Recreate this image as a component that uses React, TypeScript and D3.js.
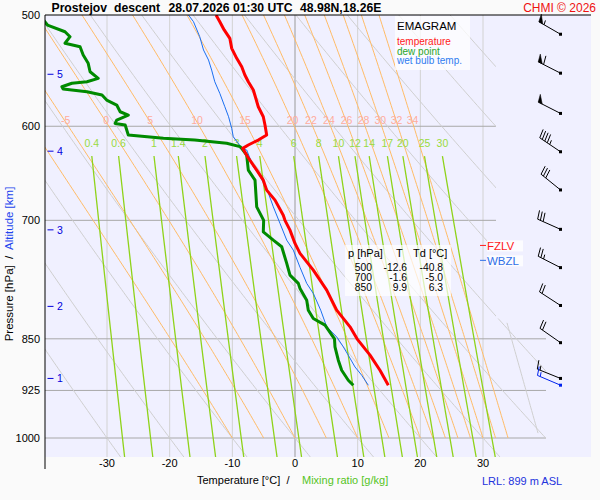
import { useEffect, useRef } from "react";
import * as d3 from "d3";

// ---- data ----
const pressureLevels = [600, 700, 850, 925, 1000];
const pressureLabels = [500, 600, 700, 850, 925, 1000];
const tempTicks = [-30, -20, -10, 0, 10, 20, 30];
const isotherms = [-30, -20, -10, 0, 10, 20, 30];
const mixingRatios = [0.4, 0.6, 1, 1.4, 2, 3, 4, 6, 8, 10, 12, 14, 17, 20, 25, 30];
const thetaW = [-10, -5, 0, 5, 10, 15, 20, 22, 24, 26, 28, 30, 32, 34];
const dryTheta = [-30, -20, -10, 0, 10, 20, 30, 40, 50, 60, 70, 80, 90, 100, 110, 120, 130, 140, 150];

// [pressure hPa, temperature °C]
const tempProfile: [number, number][] = [
  [500, -12.6], [505.5, -12.0], [512.4, -11.3], [519.5, -10.4], [528.1, -10.1],
  [536.8, -9.3], [544.2, -8.5], [551.7, -8.0], [557.8, -7.45], [565.4, -6.65],
  [581.1, -5.86], [590.7, -5.06], [598.8, -4.79], [608.7, -4.52], [613.7, -5.86],
  [618.7, -7.45], [622.1, -8.35], [632, -7.45], [644.7, -6.11], [655.4, -5.06],
  [666.2, -4.52], [677.2, -3.19], [694.1, -1.87], [700, -1.6], [711.3, -0.8],
  [727, 0], [739, 0.8], [759.5, 2.92], [784.8, 5.06], [811, 6.65], [833.5, 8.78],
  [850, 9.9], [873.1, 11.97], [894.9, 13.56], [917.2, 14.89],
];
const dewProfile: [number, number][] = [
  [500, -40.8], [508.3, -39.5], [513.9, -36.7], [518.1, -35.9], [523.7, -36.7],
  [526.7, -34.3], [533.9, -33.8], [541.2, -33.0], [548.7, -32.7], [554.7, -31.4],
  [557.8, -33.2], [559.2, -35.6], [562.4, -37.2], [564.5, -37.0], [567, -33.2],
  [570.1, -30.8], [574.8, -30.05], [579.5, -28.45], [585.9, -27.9], [589.1, -26.6],
  [593.9, -28.45], [597.2, -28.7], [598.8, -27.1], [608.7, -26.6], [612, -21.0],
  [613.7, -16.0], [617, -10.9], [620.4, -8.78], [622.1, -8.51], [629, -7.71],
  [644.7, -7.45], [655.4, -6.38], [684.7, -6.11], [700, -5.0], [713.3, -5.06],
  [723.1, -3.46], [731, -2.12], [751.2, -1.32], [765.7, -0.8], [776.2, 0.53],
  [782.6, 0.8], [797.8, 1.87], [811, 2.12], [822.1, 2.92], [831.2, 4.79],
  [850, 6.3], [861.3, 6.38], [880.3, 6.91], [894.9, 7.45], [909.7, 8.5], [917.2, 9.3],
];
const wetBulbProfile: [number, number][] = [
  [500, -17.0], [505.5, -16.2], [518.1, -15.2], [529.5, -14.6], [538.3, -13.8],
  [547.2, -13.3], [557.8, -12.8], [568.5, -12.0], [581.1, -11.2], [590.7, -10.6],
  [602.1, -10.1], [610.4, -9.85], [617, -9.05], [622.1, -8.51], [623.8, -7.71],
  [641.2, -6.65], [648.2, -5.86], [664.3, -4.52], [684.7, -3.46], [703.6, -2.39],
  [723.1, -1.32], [735, -0.27], [756, 0.8], [776.2, 1.87], [789.1, 2.92],
  [811, 4.1], [833.5, 5.06], [847.3, 6.65], [861.3, 7.71], [873.1, 8.5],
  [890.1, 9.57], [902.2, 10.64], [917.2, 11.7],
];

const tableRows: [number, number, number][] = [
  [500, -12.6, -40.8],
  [700, -1.6, -5.0],
  [850, 9.9, 6.3],
];
// [altitude km, pressure hPa]
const altitudeMarks: [number, number][] = [[5, 551], [4, 625], [3, 711], [2, 806], [1, 907]];
// wind barbs: pressure, direction (deg), speed (kt)
const windLevels = [
  { p: 516, dir: 300, spd: 55 },
  { p: 550, dir: 297, spd: 60 },
  { p: 587.5, dir: 297, spd: 50 },
  { p: 625.6, dir: 304, spd: 45 },
  { p: 666, dir: 309, spd: 30 },
  { p: 710.4, dir: 294, spd: 30 },
  { p: 756.4, dir: 297, spd: 25 },
  { p: 804.8, dir: 303, spd: 20 },
  { p: 855.4, dir: 305, spd: 20 },
  { p: 907, dir: 292, spd: 15 },
];
const surfaceWind = { p: 917.1, dir: 293, spd: 15 };
const fzlv = 727;
const wbzl = 745;
const lrl = 899;

const FONT = "'Liberation Sans', Arial, Helvetica, sans-serif";

function dTdp(p: number, T: number) {
  const es = 6.112 * Math.exp((17.67 * (T - 273.15)) / (T - 29.65));
  const rs = (0.622 * es) / (p - es);
  const L = 2.501e6;
  return (287.04 * T + L * rs) / (p * (1005.7 + (L * L * rs * 0.622) / (287.04 * T * T)));
}

function moistAdiabat(tw: number, pTop: number): [number, number][] {
  let T = tw + 273.15;
  let p = 1000;
  const pts: [number, number][] = [[1000, tw]];
  while (p > pTop) {
    const dp = -4;
    const k1 = dTdp(p, T);
    const k2 = dTdp(p + dp / 2, T + (k1 * dp) / 2);
    T += k2 * dp;
    p += dp;
    pts.push([p, T - 273.15]);
  }
  return pts;
}

function tdFromMix(w: number, p: number) {
  const e = (w * p) / (622 + w);
  const l = Math.log(e / 6.112);
  return (243.5 * l) / (17.67 - l);
}

const App = () => {
  const ref = useRef<SVGSVGElement>(null);

  useEffect(() => {
    if (!ref.current) return;
    const svg = d3.select(ref.current);
    svg.selectAll("*").remove();

    const left = 45, top = 15, right = 591, bottom = 457;
    const x = d3.scaleLinear().domain([-30, 30]).range([107, 483]);
    const y = d3.scaleLog().domain([500, 1000]).range([15, 438]);
    const pBot = y.invert(bottom);
    const yStep = y(822);

    const line = d3
      .line<[number, number]>()
      .x((d) => x(d[1]))
      .y((d) => y(d[0]));

    svg.append("rect").attr("width", 600).attr("height", 500).attr("fill", "#fafafa");
    svg
      .append("rect")
      .attr("x", left)
      .attr("y", top)
      .attr("width", right - left)
      .attr("height", bottom - top)
      .attr("fill", "#f0f0ff");

    const defs = svg.append("defs");
    defs
      .append("clipPath")
      .attr("id", "diag")
      .append("polygon")
      .attr(
        "points",
        `${left},${top} 496,${top} 496,${yStep} 546,${yStep} 546,${bottom} ${left},${bottom}`
      );
    defs
      .append("clipPath")
      .attr("id", "plot")
      .append("rect")
      .attr("x", left)
      .attr("y", top)
      .attr("width", right - left)
      .attr("height", bottom - top);

    const g = svg.append("g").attr("clip-path", "url(#diag)");

    // isotherms
    isotherms.forEach((t) =>
      g
        .append("line")
        .attr("x1", x(t))
        .attr("x2", x(t))
        .attr("y1", top)
        .attr("y2", bottom)
        .attr("stroke", t === 0 ? "#9a9a9a" : "#d2d2d2")
        .attr("stroke-width", 1)
    );
    // isobars
    pressureLevels.forEach((p) =>
      g
        .append("line")
        .attr("x1", left)
        .attr("x2", right)
        .attr("y1", y(p))
        .attr("y2", y(p))
        .attr("stroke", "#a8a8a8")
    );

    // dry adiabats
    const pSteps = d3.range(500, pBot + 4, 4);
    dryTheta.forEach((th) => {
      const pts = pSteps.map((p) => [p, (th + 273.15) * Math.pow(p / 1000, 0.2857) - 273.15] as [number, number]);
      g.append("path").attr("d", line(pts)).attr("fill", "none").attr("stroke", "#cfcfcf").attr("stroke-width", 1);
    });

    // moist adiabats
    thetaW.forEach((tw) => {
      g.append("path")
        .attr("d", line(moistAdiabat(tw, 500)))
        .attr("fill", "none")
        .attr("stroke", "#ffbb66")
        .attr("stroke-width", 1);
    });
    const grayMoist = moistAdiabat(39, 828).filter((d) => d[0] <= 995);
    g.append("path").attr("d", line(grayMoist)).attr("fill", "none").attr("stroke", "#cfcfcf");

    // mixing ratio lines
    const mixP = d3.range(630, pBot + 4, 4);
    mixingRatios.forEach((w) => {
      const pts = mixP.map((p) => [p, tdFromMix(w, p)] as [number, number]);
      g.append("path").attr("d", line(pts)).attr("fill", "none").attr("stroke", "#8fd31a").attr("stroke-width", 1.3);
    });

    // labels of moist adiabats
    const pLab = y.invert(127);
    thetaW.forEach((tw) => {
      const pts = moistAdiabat(tw, pLab - 4);
      const tAt = pts[pts.length - 1][1];
      const xx = x(tAt);
      if (xx < left + 8) return;
      svg
        .append("text")
        .attr("x", xx)
        .attr("y", 124)
        .attr("text-anchor", "middle")
        .attr("font-family", FONT)
        .attr("font-size", 10.5)
        .attr("fill", "#ffac9c")
        .text(tw);
    });
    // labels of mixing ratio lines
    mixingRatios.forEach((w) => {
      svg
        .append("text")
        .attr("x", x(tdFromMix(w, 630)))
        .attr("y", 147)
        .attr("text-anchor", "middle")
        .attr("font-family", FONT)
        .attr("font-size", 10.5)
        .attr("fill", "#99db3c")
        .text(w);
    });

    // profiles
    const pg = svg.append("g").attr("clip-path", "url(#plot)");
    pg.append("path").attr("d", line(wetBulbProfile)).attr("fill", "none").attr("stroke", "#1a6ff0").attr("stroke-width", 1);
    pg.append("path").attr("d", line(dewProfile)).attr("fill", "none").attr("stroke", "#008a00").attr("stroke-width", 3).attr("stroke-linejoin", "round");
    pg.append("path").attr("d", line(tempProfile)).attr("fill", "none").attr("stroke", "#ff0000").attr("stroke-width", 3).attr("stroke-linejoin", "round");

    // top border and axis
    svg.append("line").attr("x1", left).attr("x2", right).attr("y1", top).attr("y2", top).attr("stroke", "#000");
    svg.append("line").attr("x1", left).attr("x2", left).attr("y1", top).attr("y2", 469).attr("stroke", "#000");

    // pressure labels
    pressureLabels.forEach((p) =>
      svg
        .append("text")
        .attr("x", 40)
        .attr("y", y(p) + 4)
        .attr("text-anchor", "end")
        .attr("font-family", FONT)
        .attr("font-size", 11)
        .attr("fill", "#000")
        .text(p)
    );
    // altitude marks
    altitudeMarks.forEach(([km, p]) => {
      svg.append("line").attr("x1", 47.5).attr("x2", 53.5).attr("y1", y(p)).attr("y2", y(p)).attr("stroke", "#0000dd");
      svg
        .append("text")
        .attr("x", 57)
        .attr("y", y(p) + 4)
        .attr("font-family", FONT)
        .attr("font-size", 10.5)
        .attr("fill", "#0000dd")
        .text(km);
    });
    // temperature ticks
    tempTicks.forEach((t) =>
      svg
        .append("text")
        .attr("x", x(t))
        .attr("y", 467)
        .attr("text-anchor", "middle")
        .attr("font-family", FONT)
        .attr("font-size", 11)
        .attr("fill", "#000")
        .text(t)
    );

    // axis titles
    const xt = svg.append("text").attr("y", 484).attr("font-family", FONT).attr("font-size", 11).style("white-space", "pre");
    xt.append("tspan").attr("x", 197).attr("fill", "#000").text("Temperature [°C]  /");
    xt.append("tspan").attr("x", 302).attr("fill", "#55c41e").text("Mixing ratio [g/kg]");

    const yt = svg
      .append("text")
      .attr("transform", "translate(13,264) rotate(-90)")
      .attr("text-anchor", "middle")
      .attr("font-family", FONT)
      .attr("font-size", 11.5)
      .style("white-space", "pre");
    yt.append("tspan").attr("fill", "#000").text("Pressure [hPa]  /  ");
    yt.append("tspan").attr("fill", "#2244ee").text("Altitude [km]");

    svg
      .append("text")
      .attr("x", 482)
      .attr("y", 485)
      .attr("font-family", FONT)
      .attr("font-size", 11)
      .attr("fill", "#2233dd")
      .text(`LRL: ${lrl} m ASL`);

    // title
    const title: [string, number][] = [
      ["Prostejov", 51.5],
      ["descent", 114],
      ["28.07.2026 01:30 UTC", 168.5],
      ["48.98N,18.26E", 300],
    ];
    title.forEach(([s, xx]) =>
      svg
        .append("text")
        .attr("x", xx)
        .attr("y", 11.5)
        .attr("font-family", FONT)
        .attr("font-weight", "bold")
        .attr("font-size", 12.2)
        .attr("fill", "#000")
        .text(s)
    );
    svg
      .append("text")
      .attr("x", 596)
      .attr("y", 11.5)
      .attr("text-anchor", "end")
      .attr("font-family", FONT)
      .attr("font-size", 12)
      .attr("fill", "#ee1111")
      .text("CHMI © 2026");

    // legend box
    svg.append("rect").attr("x", 395).attr("y", 16).attr("width", 75).attr("height", 54).attr("fill", "#fff").attr("opacity", 0.75);
    svg.append("text").attr("x", 397).attr("y", 30).attr("font-family", FONT).attr("font-size", 11.5).attr("fill", "#000").text("EMAGRAM");
    const legend: [string, string][] = [
      ["temperature", "#ff1a1a"],
      ["dew point", "#2aa52a"],
      ["wet bulb temp.", "#2f7bf0"],
    ];
    legend.forEach(([s, c], i) =>
      svg
        .append("text")
        .attr("x", 397)
        .attr("y", 45 + i * 9.5)
        .attr("font-family", FONT)
        .attr("font-size", 10)
        .attr("fill", c)
        .text(s)
    );

    // table
    svg.append("rect").attr("x", 345).attr("y", 245).attr("width", 106).attr("height", 51).attr("fill", "#fff").attr("opacity", 0.7);
    const th = svg.append("g").attr("font-family", FONT).attr("fill", "#000");
    th.append("text").attr("x", 348).attr("y", 257).attr("font-size", 11).text("p [hPa]");
    th.append("text").attr("x", 396).attr("y", 257).attr("font-size", 11).text("T");
    th.append("text").attr("x", 413).attr("y", 257).attr("font-size", 11).text("Td [°C]");
    tableRows.forEach(([p, t, td], i) => {
      const yy = 270.5 + i * 10;
      const row = th.append("g").attr("font-size", 10.3);
      row.append("text").attr("x", 372).attr("y", yy).attr("text-anchor", "end").text(p);
      row.append("text").attr("x", 407).attr("y", yy).attr("text-anchor", "end").text(t.toFixed(1));
      row.append("text").attr("x", 443).attr("y", yy).attr("text-anchor", "end").text(td.toFixed(1));
    });

    // freezing levels
    const levels: [string, number, string][] = [
      ["FZLV", fzlv, "#ff1a1a"],
      ["WBZL", wbzl, "#2f6fe8"],
    ];
    levels.forEach(([s, p, c]) => {
      const yy = y(p) + 2;
      svg.append("rect").attr("x", 487).attr("y", yy - 5).attr("width", 36).attr("height", 11).attr("fill", "#fff").attr("opacity", 0.8);
      svg.append("line").attr("x1", 480).attr("x2", 486).attr("y1", yy).attr("y2", yy).attr("stroke", c);
      svg
        .append("text")
        .attr("x", 487)
        .attr("y", yy + 4.5)
        .attr("font-family", FONT)
        .attr("font-size", 11.5)
        .attr("fill", c)
        .text(s);
    });

    // wind barbs
    const drawBarb = (p: number, dir: number, spd: number, color: string) => {
      const cx = 560.5, cy = y(p);
      const r = (dir * Math.PI) / 180;
      const ux = Math.sin(r), uy = -Math.cos(r);
      const L = 25;
      const tx = cx + ux * L, ty = cy + uy * L;
      const a = (12 * Math.PI) / 180;
      const bx = -uy * Math.cos(a) + ux * Math.sin(a);
      const by = ux * Math.cos(a) + uy * Math.sin(a);
      const bg = svg.append("g").attr("stroke", color).attr("fill", color).attr("stroke-width", 1);
      bg.append("line").attr("x1", cx).attr("y1", cy).attr("x2", tx).attr("y2", ty);
      bg.append("rect").attr("x", cx - 1.5).attr("y", cy - 1.5).attr("width", 3).attr("height", 3).attr("stroke", "none");
      let s = Math.round(spd / 5) * 5;
      let pos = 0;
      const along = (d: number) => [tx - ux * d, ty - uy * d];
      while (s >= 50) {
        const p1 = along(pos), p2 = along(pos + 4.5);
        const apex = [p1[0] + bx * 8, p1[1] + by * 8];
        bg.append("polygon").attr("points", `${p1} ${apex} ${p2}`).attr("stroke-width", 0.5);
        pos += 6;
        s -= 50;
      }
      while (s >= 10) {
        const p1 = along(pos);
        bg.append("line").attr("x1", p1[0]).attr("y1", p1[1]).attr("x2", p1[0] + bx * 9).attr("y2", p1[1] + by * 9);
        pos += 3;
        s -= 10;
      }
      if (s >= 5) {
        if (pos === 0) pos = 3;
        const p1 = along(pos);
        bg.append("line").attr("x1", p1[0]).attr("y1", p1[1]).attr("x2", p1[0] + bx * 4.5).attr("y2", p1[1] + by * 4.5);
      }
    };
    windLevels.forEach((w) => drawBarb(w.p, w.dir, w.spd, "#000"));
    drawBarb(surfaceWind.p, surfaceWind.dir, surfaceWind.spd, "#0022ee");
  }, []);

  return <svg ref={ref} width={600} height={500} style={{ position: "absolute", left: 0, top: 0 }} />;
};

export default App;
